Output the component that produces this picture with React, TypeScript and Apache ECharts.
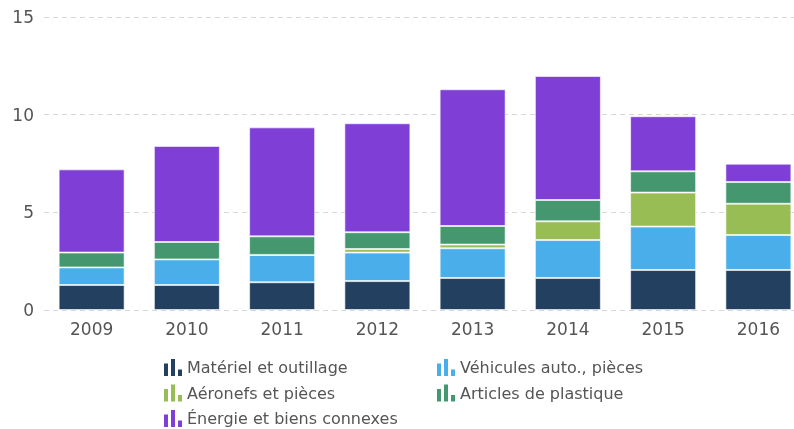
import React, { useEffect, useRef } from "react";
import * as echarts from "echarts";

const years = ["2009", "2010", "2011", "2012", "2013", "2014", "2015", "2016"];
const materiel = [1.28, 1.28, 1.42, 1.48, 1.64, 1.64, 2.05, 2.05];
const vehicules = [0.9, 1.31, 1.4, 1.46, 1.52, 1.94, 2.22, 1.79];
const aeronefs = [0.0, 0.0, 0.0, 0.18, 0.19, 0.96, 1.74, 1.6];
const plastique = [0.76, 0.89, 0.95, 0.86, 0.95, 1.09, 1.09, 1.11];
const energie = [4.26, 4.92, 5.58, 5.58, 7.0, 6.35, 2.82, 0.94];

const names = [
  "Matériel et outillage",
  "Véhicules auto., pièces",
  "Aéronefs et pièces",
  "Articles de plastique",
  "Énergie et biens connexes",
];
const colors = ["#234060", "#4AAEEA", "#99BD55", "#44976F", "#7F3ED6"];
const seriesData = [materiel, vehicules, aeronefs, plastique, energie];

const icon = "path://M0,4.5H4V17H0Z M7,0H11V17H7Z M14,10.5H18V17H14Z";

export default function App() {
  const ref = useRef<HTMLDivElement>(null);
  useEffect(() => {
    if (!ref.current) return;
    const chart = echarts.init(ref.current, undefined, { renderer: "svg" });
    const legendCommon = {
      orient: "vertical" as const,
      top: 354,
      height: 120,
      itemWidth: 18,
      itemHeight: 17,
      itemGap: 8.5,
      icon,
      itemStyle: { borderWidth: 0 },
      textStyle: { fontSize: 16, color: "#555", fontFamily: "DejaVu Sans" },
      selectedMode: false,
    };
    chart.setOption({
      animation: false,
      textStyle: { fontFamily: "DejaVu Sans" },
      grid: { left: 44, top: 17, bottom: 119, width: 762 },
      legend: [
        { ...legendCommon, left: 159, data: [names[0], names[2], names[4]] },
        { ...legendCommon, left: 432, data: [names[1], names[3]] },
      ],
      xAxis: {
        type: "category",
        data: years,
        axisLine: { show: false },
        axisTick: { show: false },
        axisLabel: { fontSize: 17, color: "#555", margin: 10 },
      },
      yAxis: {
        type: "value",
        min: 0,
        max: 15,
        interval: 5,
        axisLine: { show: false },
        axisTick: { show: false },
        axisLabel: { fontSize: 17, color: "#555", margin: 10 },
        splitLine: { lineStyle: { type: [5, 4], color: "#d8d8d8", width: 1 } },
      },
      series: seriesData.map((d, i) => ({
        name: names[i],
        type: "bar",
        stack: "total",
        barWidth: 66,
        data: d,
        itemStyle: {
          color: colors[i],
          borderColor: "rgba(255,255,255,0.6)",
          borderWidth: 1,
        },
      })),
    });
    return () => chart.dispose();
  }, []);
  return (
    <div style={{ position: "fixed", left: 0, top: 0, width: 794, height: 429, overflow: "hidden" }}>
      <div ref={ref} style={{ width: 812, height: 429 }} />
    </div>
  );
}
